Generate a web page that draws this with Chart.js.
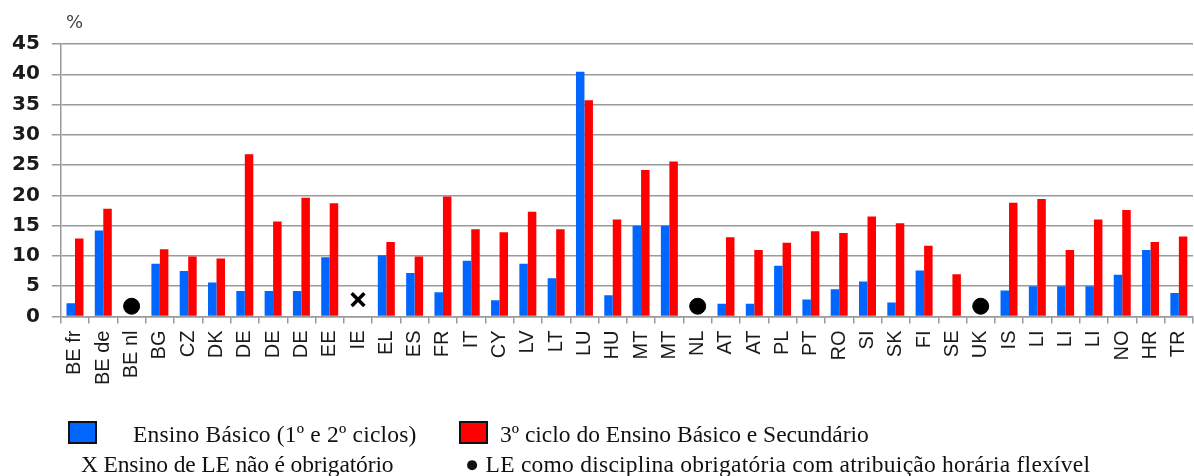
<!DOCTYPE html>
<html>
<head>
<meta charset="utf-8">
<script src="https://cdn.jsdelivr.net/npm/chart.js@4"></script>
<style>
  html, body { margin:0; padding:0; background:#fff; }
  #wrap { position:relative; width:1194px; height:476px; overflow:hidden; }
  #chart { position:absolute; left:0; top:0; }
  .pct { position:absolute; left:66px; top:11px; font:18px "DejaVu Sans", sans-serif; color:#444; }
  .leg { position:absolute; font:23.5px "Liberation Serif", "Times New Roman", serif; color:#111; white-space:nowrap; line-height:1; }
  .box { position:absolute; width:25px; height:19px; border:2px solid #111; }
</style>
</head>
<body>
<div id="wrap">
  <canvas id="chart" width="1194" height="476"></canvas>
  <div class="pct">%</div>
  <div class="box" style="left:68px;top:421px;background:#0066FF"></div>
  <div class="leg" style="left:133px;top:423px;letter-spacing:0.2px">Ensino Básico (1º e 2º ciclos)</div>
  <div class="box" style="left:459px;top:421px;background:#FF0000"></div>
  <div class="leg" style="left:500px;top:423px">3º ciclo do Ensino Básico e Secundário</div>
  <div class="leg" style="left:81px;top:453px;letter-spacing:-0.15px">X Ensino de LE não é obrigatório</div>
  <div class="leg" style="left:465px;top:453px;letter-spacing:0.25px">● LE como disciplina obrigatória com atribuição horária flexível</div>
</div>
<script>
const countries = ["BE fr","BE de","BE nl","BG","CZ","DK","DE","DE","DE","EE","IE","EL","ES","FR","IT","CY","LV","LT","LU","HU","MT","MT","NL","AT","AT","PL","PT","RO","SI","SK","FI","SE","UK","IS","LI","LI","LI","NO","HR","TR"];
const basico = [2.2,14.2,null,8.7,7.5,5.6,4.2,4.2,4.2,9.8,null,10.1,7.2,4.0,9.2,2.7,8.7,6.3,40.4,3.5,15.0,15.0,null,2.1,2.1,8.4,2.8,4.5,5.8,2.3,7.6,null,null,4.3,5.0,5.0,5.0,6.9,11.0,3.9];
const terceiro = [12.9,17.8,null,11.1,9.9,9.6,26.8,15.7,19.6,18.7,null,12.3,9.9,19.8,14.4,13.9,17.3,14.4,35.7,16.0,24.2,25.6,null,13.1,11.0,12.2,14.1,13.8,16.5,15.4,11.7,7.0,null,18.8,19.4,11.0,16.0,17.6,12.3,13.2];
// markers: flexible timetable (dot) and not compulsory (x)
const flexivel = [{x:"BE nl", y:1.7}, {x:"NL", y:1.7}, {x:"UK", y:1.7}];
const naoObrig = [{x:"IE", y:2.8}];
const yTicks = { min:0, max:45, step:5 };

const C = { blue:"#0066FF", red:"#FF0000", grid:"#9a9a9a", ink:"#1a1a1a" };

new Chart(document.getElementById("chart"), {
  type:"bar",
  data:{
    labels:countries,
    datasets:[
      { label:"Ensino Básico (1º e 2º ciclos)", data:basico, backgroundColor:C.blue, categoryPercentage:0.6, barPercentage:1.0 },
      { label:"3º ciclo do Ensino Básico e Secundário", data:terceiro, backgroundColor:C.red, categoryPercentage:0.6, barPercentage:1.0 },
      { type:"line", label:"flexível", data:flexivel, showLine:false, pointStyle:"circle", pointRadius:8, backgroundColor:"#000", borderColor:"#000" },
      { type:"line", label:"não obrigatório", data:naoObrig, showLine:false, pointStyle:"crossRot", pointRadius:9, borderWidth:3.5, borderColor:"#000", backgroundColor:"#000" }
    ]
  },
  options:{
    responsive:false, animation:false,
    layout:{ autoPadding:false, padding:{ top:44, left:0, right:1, bottom:84 } },
    plugins:{ legend:{ display:false }, tooltip:{ enabled:false } },
    scales:{
      x:{
        // rotated last label would otherwise push the plot in from the right edge
        afterFit:(s)=>{ s.paddingRight = 0; s.paddingLeft = 0; },
        grid:{ drawOnChartArea:false, drawTicks:true, tickLength:7, color:C.grid, lineWidth:1.5 },
        border:{ color:C.grid, width:1.5 },
        ticks:{ autoSkip:false, maxRotation:90, minRotation:90, padding:7, color:C.ink, font:{ family:"Liberation Sans", size:20 } }
      },
      y:{
        min:yTicks.min, max:yTicks.max,
        grid:{ color:C.grid, lineWidth:1.5, tickLength:9 },
        border:{ color:C.grid, width:1.5 },
        ticks:{ stepSize:yTicks.step, padding:12, color:C.ink, font:{ family:"DejaVu Sans", size:20, weight:"bold" } }
      }
    }
  }
});
</script>
</body>
</html>
